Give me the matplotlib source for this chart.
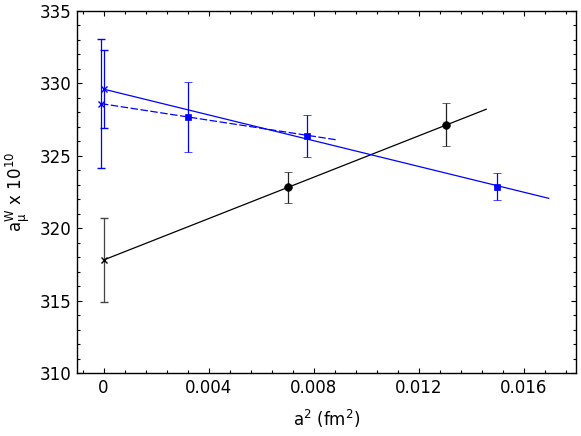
import matplotlib
matplotlib.use("Agg")
import matplotlib.pyplot as plt
from matplotlib.ticker import MultipleLocator, FixedLocator

plt.rcParams['font.family'] = ['DejaVu Sans']
plt.rcParams['mathtext.default'] = 'regular'

# ---- data ----
# blue: continuum-extrapolated points at a^2 ~ 0 (x markers)
blue_x0_solid = [0.0]
blue_y0_solid = [329.6]
blue_e0_solid = [2.68]
blue_x0_dash = [-0.0001]
blue_y0_dash = [328.6]
blue_e0_dash = [4.45]
# blue squares
blue_sq_x = [0.0032, 0.00776, 0.0150]
blue_sq_y = [327.70, 326.37, 322.87]
blue_sq_e = [2.42, 1.45, 0.95]
# black circles
black_x = [0.00702, 0.01304]
black_y = [322.82, 327.15]
black_e = [1.07, 1.47]
# black extrapolated point (x marker)
black_x0 = [0.0]
black_y0 = [317.8]
black_e0 = [2.9]
# fit lines (end points)
fit_black_x = [0.0, 0.01458]
fit_black_y = [317.8, 328.21]
fit_blue_x = [0.0, 0.01696]
fit_blue_y = [329.6, 322.06]
fit_blue_dash_x = [-0.0001, 0.00891]
fit_blue_dash_y = [328.6, 326.09]

xticks = [0, 0.004, 0.008, 0.012, 0.016]
xticklabels = ['0', '0.004', '0.008', '0.012', '0.016']
yticks = [310, 315, 320, 325, 330, 335]

BLUE = '#0000ff'

fig = plt.figure(figsize=(5.81, 4.36), dpi=100)
ax = fig.add_axes([0.133, 0.1445, 0.8584, 0.8305])

# fit lines
ax.plot(fit_black_x, fit_black_y, color='black', lw=0.9)
ax.plot(fit_blue_x, fit_blue_y, color=BLUE, lw=0.9)
ax.plot(fit_blue_dash_x, fit_blue_dash_y, color=BLUE, lw=0.9, ls=(0, (6, 2)))

eb_kw = dict(capsize=3, elinewidth=0.9, capthick=0.9, ls='none')
ax.errorbar(blue_x0_dash, blue_y0_dash, yerr=blue_e0_dash, fmt='x', color=BLUE,
            ms=5, mew=1.0, **eb_kw)
ax.errorbar(blue_x0_solid, blue_y0_solid, yerr=blue_e0_solid, fmt='x', color=BLUE,
            ms=5, mew=1.0, **eb_kw)
ax.errorbar(blue_sq_x, blue_sq_y, yerr=blue_sq_e, fmt='s', color=BLUE,
            ms=5, mew=0.5, **eb_kw)
ax.errorbar(black_x, black_y, yerr=black_e, fmt='o', color='black',
            ecolor='#222222', ms=5.5, mew=0.5, **eb_kw)
ax.errorbar(black_x0, black_y0, yerr=black_e0, fmt='x', color='black',
            ecolor='#444444', ms=5, mew=1.0, **eb_kw)

ax.set_xlim(-0.001, 0.018)
ax.set_ylim(310, 335)
ax.xaxis.set_major_locator(FixedLocator(xticks))
ax.set_xticklabels(xticklabels)
ax.xaxis.set_minor_locator(MultipleLocator(0.0008))
ax.yaxis.set_major_locator(FixedLocator(yticks))
ax.yaxis.set_minor_locator(MultipleLocator(1))

ax.tick_params(which='both', direction='in', top=True, right=True, labelsize=12,
               width=0.8)
ax.tick_params(which='major', length=3.5, pad=4)
ax.tick_params(which='minor', length=2)
for s in ax.spines.values():
    s.set_linewidth(1.0)

ax.set_xlabel(r'a$^2$ (fm$^2$)', fontsize=12, labelpad=8)
ax.set_ylabel(r'$a_{\mu}^{W}$ x 10$^{10}$', fontsize=12, labelpad=6)

fig.savefig('out.png', dpi=100)
